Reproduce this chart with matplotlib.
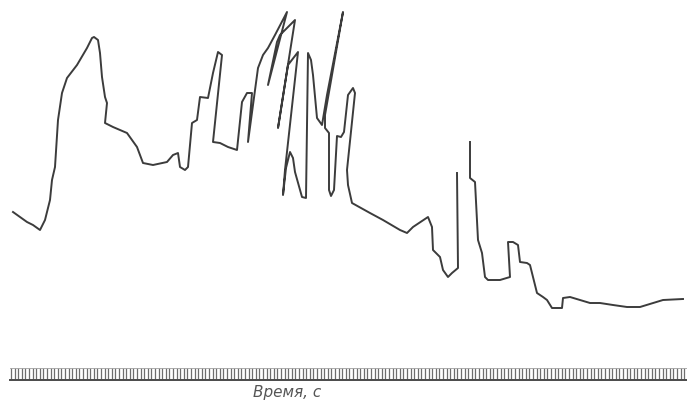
import numpy as np
import matplotlib.pyplot as plt

# pen trace of the recorder chart (time units, pen position from top of chart)
t = [13, 20, 27, 33, 40, 45, 50, 52, 55, 58, 62, 67, 77, 87, 92, 94,
     98, 100, 102, 105, 107, 105, 113, 127, 137, 143, 153, 167, 173, 178,
     180, 185, 188, 192, 197, 200, 208, 213, 218, 222, 213, 220, 228, 237,
     242, 247, 252, 248, 258, 263, 268, 275, 287, 268, 277, 280, 295, 278,
     288, 298, 285, 283, 286, 290, 293, 295, 302, 306, 308, 311, 313, 317,
     322, 327, 343, 325, 325, 329, 329, 331, 334, 337, 341, 344, 348, 353,
     355, 347, 348, 352, 370, 383,
     400, 407, 413, 428, 432, 433, 440, 443, 448, 452, 458, 457, np.nan,
     470, 470, 475, 478, 482, 485, 488, 500, 510, 508, 513, 518, 520, 527,
     530, 537, 543, 547, 552, 562, 563, 570, 580, 590, 600, 613, 627, 640,
     653, 663, 683]
pen = [212, 217, 222, 225, 230, 220, 200, 180, 167, 120, 93, 78, 65, 48, 38, 37,
       40, 53, 77, 97, 103, 123, 127, 133, 147, 163, 165, 162, 155, 153,
       167, 170, 167, 123, 120, 97, 98, 73, 52, 55, 142, 143, 147, 150,
       102, 93, 93, 142, 68, 55, 48, 35, 12, 85, 42, 35, 20, 128,
       65, 52, 170, 195, 168, 152, 158, 172, 197, 198, 53, 60, 75, 118,
       125, 95, 12, 115, 128, 133, 190, 196, 190, 136, 137, 132, 95, 88,
       93, 170, 185, 203, 213, 220,
       230, 233, 227, 217, 227, 250, 257, 270, 277, 273, 268, 173, np.nan,
       142, 178, 182, 240, 253, 277, 280, 280, 277, 242, 242, 245, 262, 263,
       265, 293, 297, 300, 308, 308, 298, 297, 300, 303, 303, 305, 307, 307,
       303, 300, 299]

fig = plt.figure(figsize=(6.87, 4.16), dpi=100)
ax = fig.add_axes([0, 0, 1, 1])
ax.set_xlim(0, 687)
ax.set_ylim(416, 0)
ax.axis('off')

ax.plot(t, pen, color='#3c3c3c', lw=1.4, solid_joinstyle='round')

# time ruler
ticks = np.arange(11, 687, 3.6)
ax.vlines(ticks, 368, 379, color='#6e6e6e', lw=0.9)
ax.plot([10, 687], [368, 368], color='#a0a0a0', lw=0.6)
ax.plot([10, 687], [379.5, 379.5], color='#4a4a4a', lw=1.4)

ax.text(287, 393, 'Время, с', ha='center', va='center', fontsize=11,
        style='italic', color='#555555', family='DejaVu Sans')

fig.savefig('out.png', dpi=100)
